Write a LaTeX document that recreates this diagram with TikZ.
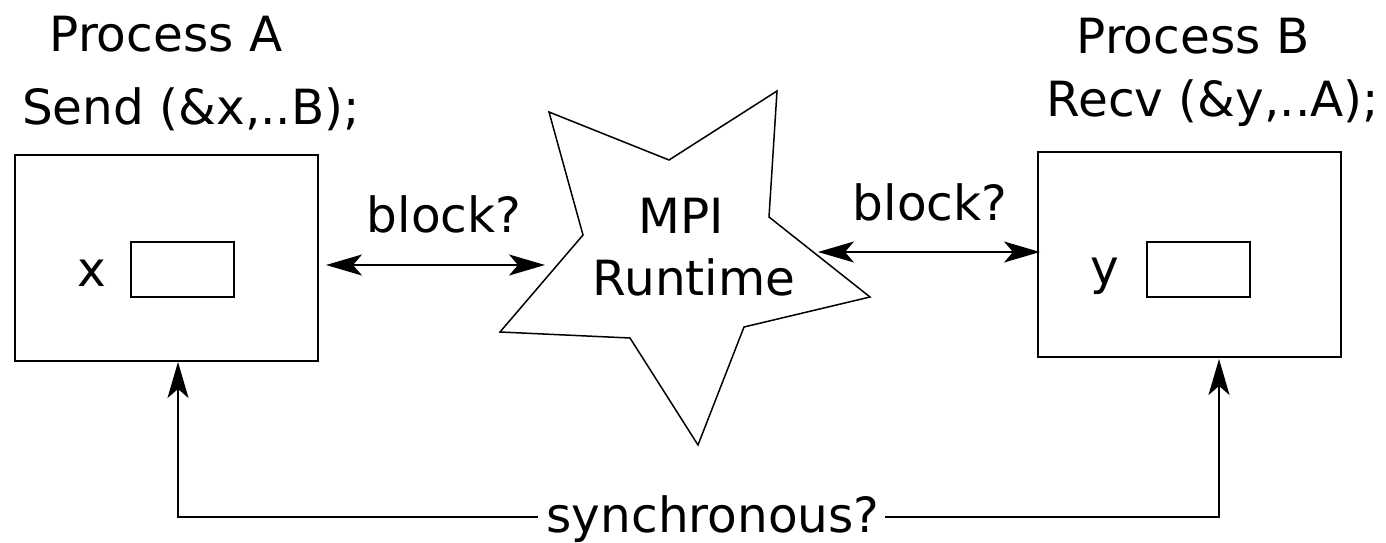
\documentclass[tikz,border=0pt]{standalone}
\usepackage{fontspec}
\setmainfont{DejaVu Sans}
\usetikzlibrary{arrows.meta}
\begin{document}
\begin{tikzpicture}[x=1pt,y=-1pt,
  lbl/.style={inner sep=0pt,anchor=base,font=\fontsize{48.5}{58}\selectfont},
  box/.style={draw,line width=1.7pt,inner sep=0pt},
  arr/.style={line width=1.7pt,-{Stealth[length=36pt,width=21pt,inset=9pt]}},
  darr/.style={line width=1.7pt,{Stealth[length=36pt,width=21pt,inset=9pt]}-{Stealth[length=36pt,width=21pt,inset=9pt]}},
  starline/.style={draw,line width=1.5pt,line join=miter}]
\useasboundingbox (0,0) rectangle (1386,543);
% boxes
\node[box,minimum width=303pt,minimum height=206pt] (boxA) at (166.5,258) {};
\node[box,minimum width=103pt,minimum height=55pt] (memA) at (182.3,269.5) {};
\node[box,minimum width=303pt,minimum height=205pt] (boxB) at (1189.5,254.5) {};
\node[box,minimum width=103pt,minimum height=55pt] (memB) at (1198.5,269.5) {};
% labels
\node[lbl] (pa) at (166,52) {Process A};
\node[lbl] (sa) at (191,124) {Send (\&x,..B);};
\node[lbl] (pb) at (1193,54) {Process B};
\node[lbl] (rb) at (1213,116) {Recv (\&y,..A);};
\node[lbl] (xl) at (92,286) {x};
\node[lbl] (yl) at (1105,284) {y};
\node[lbl] (mpi) at (681,233) {MPI};
\node[lbl] (rt) at (694,295) {Runtime};
\node[lbl] (bl1) at (444,232) {block?};
\node[lbl] (bl2) at (930,220) {block?};
\node[lbl] (sync) at (713,532) {synchronous?};
% star
\draw[starline] (549,112) -- (669,160) -- (777,91) -- (769,217) -- (870,297)
  -- (744,327) -- (698,445) -- (630,338) -- (500,332) -- (583,235) -- cycle;
% connector ends
\coordinate (aR) at (326,265);
\coordinate (sL) at (545,265);
\coordinate (sR) at (818,252);
\coordinate (bL) at (1040,252);
\coordinate (aUp) at (178,362);
\coordinate (bUp) at (1219,359);
\coordinate (syncL) at (538,517);
\coordinate (syncR) at (885,517);
\draw[darr] (aR) -- (sL);
\draw[darr] (sR) -- (bL);
\draw[arr] (syncL) -| (aUp);
\draw[arr] (syncR) -| (bUp);
\end{tikzpicture}
\end{document}
